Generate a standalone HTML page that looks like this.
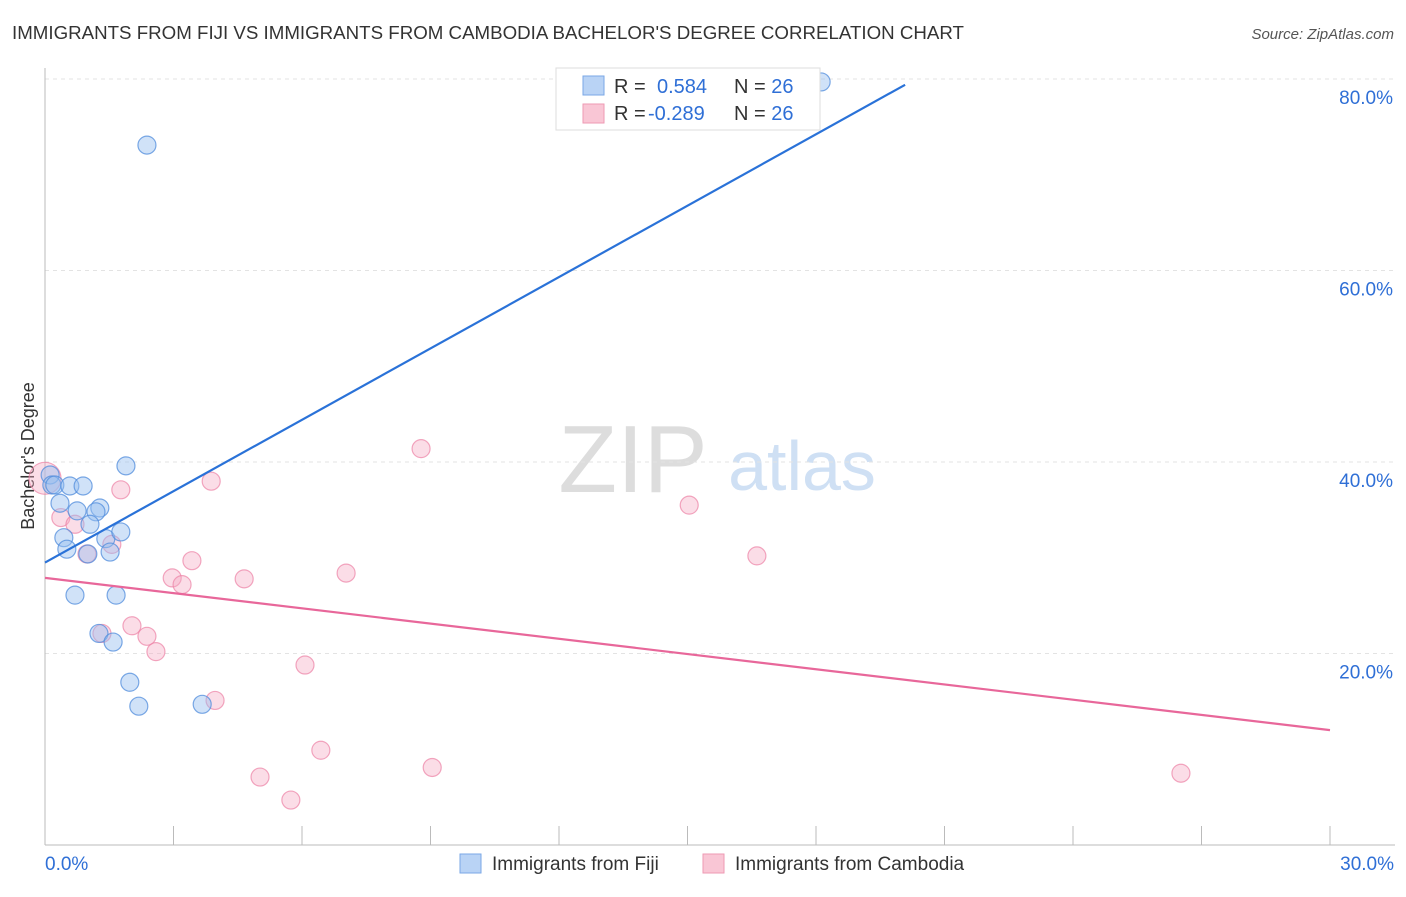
<!DOCTYPE html>
<html><head><meta charset="utf-8"><style>
body{margin:0;background:#fff;font-family:"Liberation Sans",sans-serif}
svg text{font-family:"Liberation Sans",sans-serif}
</style></head><body>
<svg id="c" width="1406" height="892">
<text x="12" y="39" font-size="18" fill="#333" textLength="952" lengthAdjust="spacingAndGlyphs">IMMIGRANTS FROM FIJI VS IMMIGRANTS FROM CAMBODIA BACHELOR'S DEGREE CORRELATION CHART</text>
<text x="1394" y="39" font-size="15" fill="#555" font-style="italic" text-anchor="end">Source: ZipAtlas.com</text>
<text x="633" y="492" font-size="96" fill="#ddd" font-family="Liberation Serif" text-anchor="middle">ZIP</text>
<text x="802" y="490" font-size="70" fill="#cfe0f4" text-anchor="middle">atlas</text>
<text transform="translate(34,456) rotate(-90)" font-size="18" fill="#333" text-anchor="middle">Bachelor's Degree</text>
<g id="grid"></g><g id="pts"></g><g id="lines"></g>
<rect x="556" y="68" width="264" height="62" fill="#fff" stroke="#ddd"/>
<rect x="583" y="76" width="21" height="19" fill="#b9d3f5" stroke="#7aa7e6"/>
<rect x="583" y="104" width="21" height="19" fill="#f9c6d5" stroke="#ee9ab3"/>
<text x="614" y="93" font-size="20" fill="#333">R = <tspan x="657" fill="#2f6fd6">0.584</tspan><tspan x="734" fill="#333">N = </tspan><tspan fill="#2f6fd6">26</tspan></text>
<text x="614" y="120" font-size="20" fill="#333">R = <tspan x="648" fill="#2f6fd6">-0.289</tspan><tspan x="734" fill="#333">N = </tspan><tspan fill="#2f6fd6">26</tspan></text>
<rect x="460" y="854" width="21" height="19" fill="#b9d3f5" stroke="#7aa7e6"/>
<text x="492" y="870" font-size="19" fill="#333">Immigrants from Fiji</text>
<rect x="703" y="854" width="21" height="19" fill="#f9c6d5" stroke="#ee9ab3"/>
<text x="735" y="870" font-size="19" fill="#333">Immigrants from Cambodia</text>
</svg>
<script>
const yTicks=[20,40,60,80];
const yTickLabels=["20.0%","40.0%","60.0%","80.0%"];
const xLabels=["0.0%","30.0%"];
const fijiX=[0.12,0.16,0.23,0.35,0.58,0.89,0.75,1.28,1.19,1.05,0.44,0.51,1.0,1.42,1.52,1.77,1.89,0.70,1.66,1.26,1.59,1.98,2.19,3.67,2.38,18.12];
const fijiY=[38.75,37.7,37.7,35.8,37.6,37.6,35.0,35.3,34.9,33.6,32.2,31.0,30.5,32.1,30.7,32.8,39.7,26.2,26.2,22.2,21.3,17.1,14.6,14.8,73.2,79.8];
const cambX=[0,0.37,0.70,0.98,1.56,1.77,3.88,3.43,2.97,3.20,4.65,7.03,8.78,15.04,16.62,2.03,2.38,2.59,1.33,6.07,3.97,6.44,5.02,5.74,9.04,26.52];
const cambY=[38.4,34.3,33.6,30.5,31.5,37.2,38.1,29.8,28.0,27.3,27.9,28.5,41.5,35.6,30.3,23.0,21.9,20.3,22.2,18.9,15.2,10.0,7.2,4.8,8.2,7.6];
const fijiTrend=[[0,29.6],[20.08,79.5]];
const cambTrend=[[0,28.0],[30,12.1]];
const X=v=>45+v*1285/30, Y=v=>846-v*9.575;
const NS="http://www.w3.org/2000/svg";
function mk(t,a,p){const e=document.createElementNS(NS,t);for(const k in a)e.setAttribute(k,a[k]);p.appendChild(e);return e;}
const g=document.getElementById('grid');
yTicks.forEach((t,i)=>{
 const l=mk('line',{x1:45,x2:1395,y1:Y(t)-1,y2:Y(t)-1,stroke:'#e3e3e3','stroke-dasharray':'4,4'},g);
 
 
 const tx=mk('text',{x:1393,y:Y(t)+24,'font-size':19,fill:'#2f6fd6','text-anchor':'end'},g);tx.textContent=yTickLabels[i];
 
 
});
const ax=mk('line',{x1:45,x2:1395,y1:845,y2:845,stroke:'#bbb'},g);


const ay=mk('line',{x1:45,x2:45,y1:68,y2:845,stroke:'#bbb'},g);


for(let i=0;i<=10;i++){const t=mk('line',{x1:X(i*3),x2:X(i*3),y1:826,y2:845,stroke:'#bbb'},g);
 
 }
[[0,'start',45],[30,'end',1394]].forEach((d,i)=>{const t=mk('text',{x:d[2],y:870,'font-size':19,fill:'#2f6fd6','text-anchor':d[1]},g);t.textContent=xLabels[i];
 
 });
const p=document.getElementById('pts');
cambX.forEach((x,i)=>{const c=mk('circle',{cx:X(x),cy:Y(cambY[i]),r:i==0?16:9,fill:'rgba(246,170,195,0.4)',stroke:'rgba(236,130,165,0.7)','stroke-width':1.2},p);
 
 });
fijiX.forEach((x,i)=>{const c=mk('circle',{cx:X(x),cy:Y(fijiY[i]),r:9,fill:'rgba(150,190,240,0.45)',stroke:'rgba(80,140,220,0.75)','stroke-width':1.2},p);
 
 });
const L=document.getElementById('lines');
const l1=mk('line',{x1:X(fijiTrend[0][0]),y1:Y(fijiTrend[0][1]),x2:X(fijiTrend[1][0]),y2:Y(fijiTrend[1][1]),stroke:'#2a72d8','stroke-width':2.2},L);


const l2=mk('line',{x1:X(cambTrend[0][0]),y1:Y(cambTrend[0][1]),x2:X(cambTrend[1][0]),y2:Y(cambTrend[1][1]),stroke:'#e8679a','stroke-width':2.2},L);


</script>
</body></html>
